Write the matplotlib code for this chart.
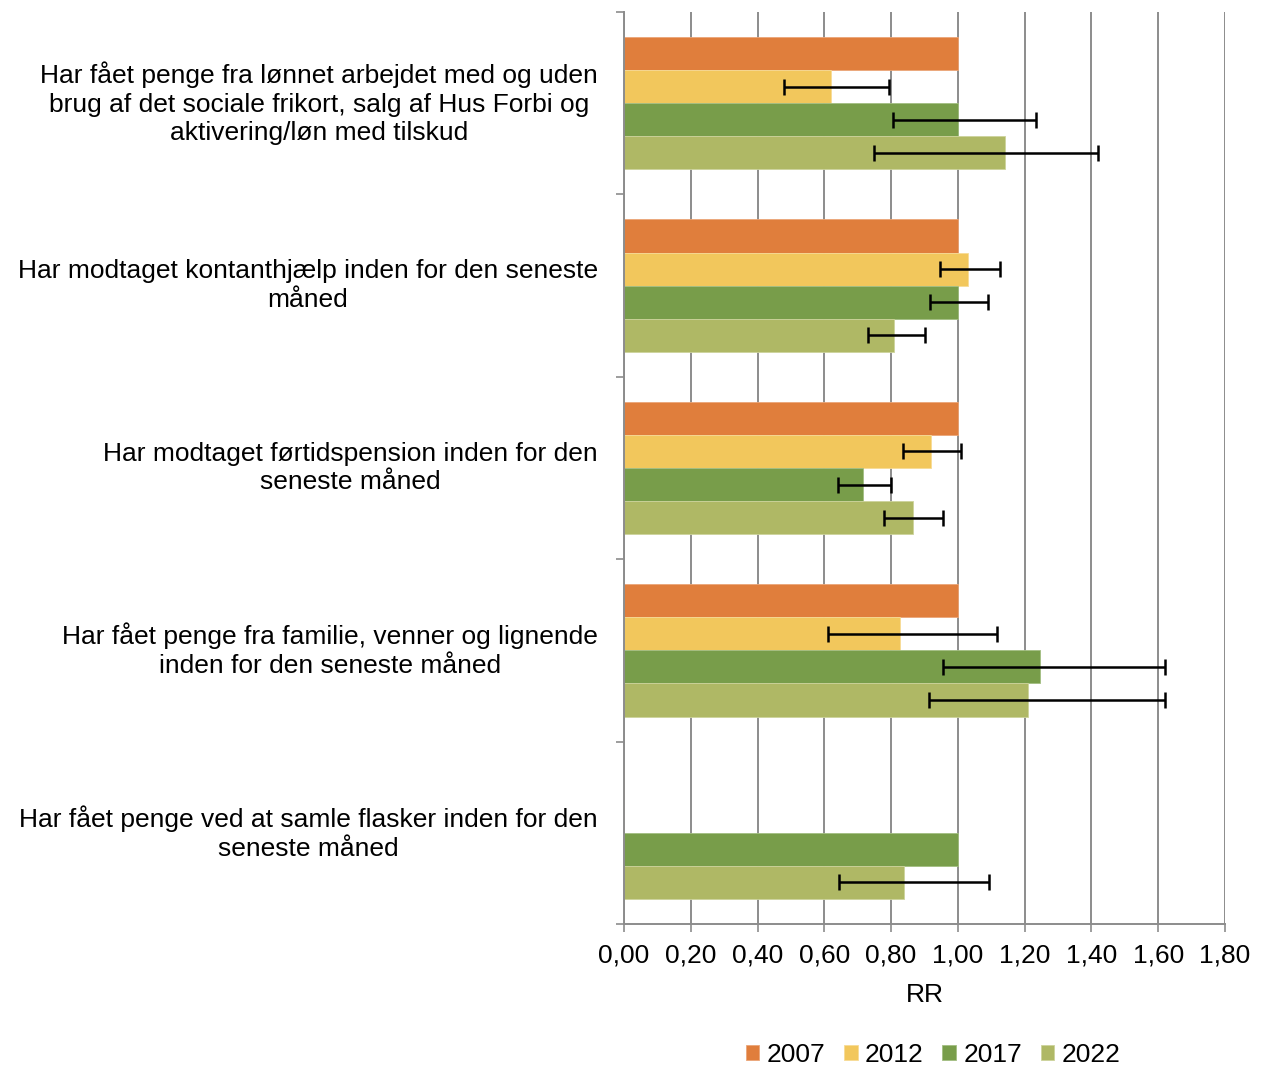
import matplotlib
matplotlib.use("Agg")
import matplotlib.pyplot as plt
import numpy as np
from matplotlib.transforms import blended_transform_factory

plt.rcParams['font.family'] = ['Liberation Sans', 'DejaVu Sans']

categories = [
    "Har fået penge fra lønnet arbejdet med og uden\nbrug af det sociale frikort, salg af Hus Forbi og\naktivering/løn med tilskud",
    "Har modtaget kontanthjælp inden for den seneste\nmåned",
    "Har modtaget førtidspension inden for den\nseneste måned",
    "Har fået penge fra familie, venner og lignende\ninden for den seneste måned",
    "Har fået penge ved at samle flasker inden for den\nseneste måned",
]
years = ["2007", "2012", "2017", "2022"]

rr_2007 = [1.00, 1.00, 1.00, 1.00, np.nan]
rr_2012 = [0.62, 1.03, 0.92, 0.826, np.nan]
rr_2017 = [1.00, 1.00, 0.716, 1.245, 1.00]
rr_2022 = [1.14, 0.81, 0.865, 1.21, 0.838]

lo_2012 = [0.48, 0.946, 0.835, 0.61, np.nan]
hi_2012 = [0.795, 1.126, 1.01, 1.117, np.nan]
lo_2017 = [0.805, 0.916, 0.64, 0.955, np.nan]
hi_2017 = [1.234, 1.09, 0.80, 1.62, np.nan]
lo_2022 = [0.75, 0.73, 0.78, 0.913, 0.644]
hi_2022 = [1.42, 0.90, 0.955, 1.62, 1.093]

xticks = [0.0, 0.2, 0.4, 0.6, 0.8, 1.0, 1.2, 1.4, 1.6, 1.8]
xticklabels = ["0,00", "0,20", "0,40", "0,60", "0,80", "1,00", "1,20", "1,40", "1,60", "1,80"]

colors = ["#E07E3C", "#F2C75C", "#789D4A", "#AFB865"]
edges = ["#EBA678", "#F7DB96", "#A3BE82", "#CDD39C"]

W, H = 1263, 1066
fig = plt.figure(figsize=(W / 100, H / 100), dpi=100)
ax = fig.add_axes([624 / W, 1 - 924 / H, (1225 - 624) / W, (924 - 12) / H])

series = [rr_2007, rr_2012, rr_2017, rr_2022]
los = [None, lo_2012, lo_2017, lo_2022]
his = [None, hi_2012, hi_2017, hi_2022]

n = len(categories)
y = np.arange(n)
h = 33 / 182
for i, (vals, lo, hi) in enumerate(zip(series, los, his)):
    vals = np.array(vals, dtype=float)
    pos = y + (i - 1.5) * h
    ax.barh(pos, np.nan_to_num(vals), height=h, color=colors[i],
            edgecolor=edges[i], linewidth=0.6, zorder=2, label=years[i])
    if lo is not None:
        lo = np.array(lo, dtype=float)
        hi = np.array(hi, dtype=float)
        mask = ~np.isnan(lo)
        err = np.vstack([vals[mask] - lo[mask], hi[mask] - vals[mask]])
        ax.errorbar(vals[mask], pos[mask], xerr=err, fmt='none', ecolor='black',
                    elinewidth=1.8, capsize=5.5, capthick=1.8, zorder=3)

ax.set_xlim(0, 1.8)
ax.set_ylim(n - 0.5, -0.5)
ax.set_xticks(xticks)
ax.set_xticklabels(xticklabels, fontsize=19)
ax.set_yticks(np.arange(-0.5, n, 1.0))
ax.set_yticklabels([])
ax.tick_params(axis='y', length=6, width=1.2, color='#8C8C8C', direction='out')
ax.tick_params(axis='x', length=6, width=1.2, color='#8C8C8C', direction='out', pad=8)
ax.grid(axis='x', color='#8C8C8C', linewidth=1.4, zorder=0)
ax.set_axisbelow(True)
for s in ['top', 'right']:
    ax.spines[s].set_visible(False)
for s in ['left', 'bottom']:
    ax.spines[s].set_color('#8C8C8C')
    ax.spines[s].set_linewidth(1.4)

ax.set_xlabel("RR", fontsize=19, labelpad=11)

trans = blended_transform_factory(fig.transFigure, ax.transData)
for i, lab in enumerate(categories):
    ax.text(598 / W, i, lab, transform=trans, ha='right', va='center',
            multialignment='center', fontsize=19, linespacing=1.26)

handles, labels = ax.get_legend_handles_labels()
fig.legend(handles, labels, loc='center', bbox_to_anchor=(933 / W, 1 - 1055 / H),
           ncol=4, frameon=False, fontsize=19, handlelength=0.52, handleheight=0.52,
           handletextpad=0.28, columnspacing=0.7, borderpad=0)

fig.savefig("out.png", dpi=100)
